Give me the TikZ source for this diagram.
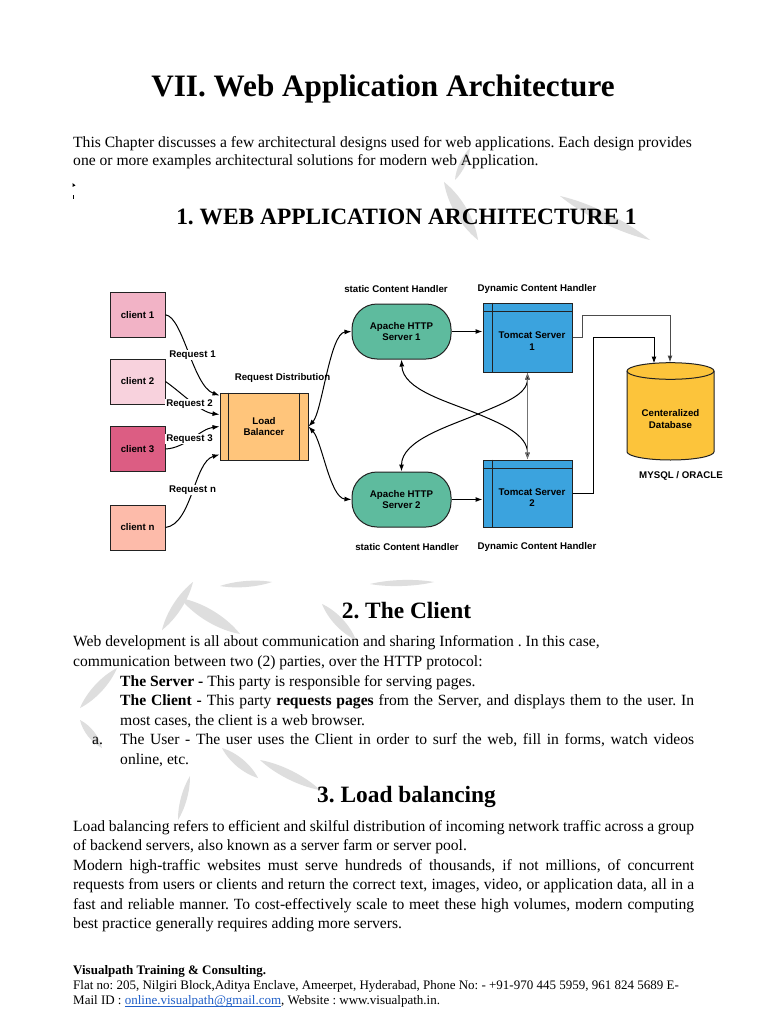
\documentclass[tikz,border=0pt]{standalone}
\usepackage{fontspec}
\setmainfont{Liberation Serif}
\newfontfamily\diagfont{Liberation Sans}
\usetikzlibrary{arrows.meta,calc}
\frenchspacing
\definecolor{cone}{HTML}{F2B3C6}
\definecolor{ctwo}{HTML}{F8D2DD}
\definecolor{cthree}{HTML}{DC5D83}
\definecolor{cn}{HTML}{FDBBAA}
\definecolor{lbfill}{HTML}{FFC57B}
\definecolor{apfill}{HTML}{5EBB9E}
\definecolor{tcfill}{HTML}{3BA3DE}
\definecolor{dbfill}{HTML}{FCC43B}
\definecolor{edge}{HTML}{222222}
\definecolor{linkblue}{HTML}{1F5FC8}
\definecolor{wmark}{HTML}{DEDEDE}
\newcommand\wleaf[5]{\fill[wmark] (#1,#2) .. controls ($(#1,#2)!0.3!(#3,#4)!#5!90:(#3,#4)$) and ($(#1,#2)!0.7!(#3,#4)!#5!90:(#3,#4)$) .. (#3,#4) .. controls ($(#1,#2)!0.7!(#3,#4)!#5!-90:(#3,#4)$) and ($(#1,#2)!0.3!(#3,#4)!#5!-90:(#3,#4)$) .. cycle;}
\tikzset{
  body/.style={anchor=base west, inner sep=0pt, font=\fontsize{15.6}{19.5}\selectfont},
  heading/.style={anchor=base, inner sep=0pt, font=\bfseries\fontsize{23.4}{28}\selectfont},
  foot/.style={anchor=base west, inner sep=0pt, font=\fontsize{13}{15}\selectfont},
  dfont/.style={font=\diagfont\bfseries\fontsize{9.7}{11.7}\selectfont},
  dtext/.style={dfont, align=center, inner sep=0pt},
  lab/.style={dfont, inner sep=1pt, fill=white},
  clientbox/.style={draw=edge, line width=1pt, minimum width=55pt, minimum height=45pt, inner sep=0pt, dfont},
  lbbox/.style={draw=edge, line width=1pt, fill=lbfill, minimum width=88pt, minimum height=67pt, inner sep=0pt, dfont, align=center},
  apbox/.style={draw=edge, line width=1pt, fill=apfill, rounded corners=25pt, minimum width=99pt, minimum height=55pt, inner sep=0pt, dfont, align=center},
  tcbox/.style={draw=edge, line width=1pt, fill=tcfill, minimum width=89pt, inner sep=0pt},
  conn/.style={line width=1pt, black, -{Latex[length=7pt,width=5pt]}},
  dconn/.style={line width=1pt, black, {Latex[length=7pt,width=5pt]}-{Latex[length=7pt,width=5pt]}},
}
\begin{document}
\begin{tikzpicture}[x=1pt,y=-1pt]
\useasboundingbox (0,0) rectangle (768,1024);
\fill[white] (0,0) rectangle (768,1024);

% ---------- faint watermark ----------
\wleaf{470}{148}{455}{180}{4pt}
\wleaf{444}{182}{478}{240}{8pt}
\wleaf{560}{196}{650}{240}{7pt}
\wleaf{193}{582}{162}{630}{6pt}
\wleaf{180}{598}{240}{634}{8pt}
\wleaf{220}{586}{272}{582}{4pt}
\wleaf{370}{584}{434}{582}{4pt}
\wleaf{322}{604}{356}{640}{6pt}
\wleaf{117}{668}{80}{708}{6pt}
\wleaf{80}{720}{102}{748}{5pt}
\wleaf{222}{748}{258}{778}{6pt}
\wleaf{190}{776}{178}{820}{4pt}
\wleaf{260}{760}{320}{790}{6pt}

% ---------- text ----------
\node[anchor=base, inner sep=0pt, font=\bfseries\fontsize{31.2}{36}\selectfont] (title) at (383,97) {VII. Web Application Architecture};
\node[body] (p1) at (73,148) {This Chapter discusses a few architectural designs used for web applications. Each design provides};
\node[body] (p2) at (73,166) {one or more examples architectural solutions for modern web Application.};
\fill (72.5,183) -- (75.5,185.5) -- (72.5,187) -- cycle;
\fill (72.6,195) rectangle (73.6,199);
\node[heading] (h1) at (406.5,225) {1. WEB APPLICATION ARCHITECTURE 1};

\node[heading] (h2) at (406.5,618) {2. The Client};
\node[body] (s1) at (73,646) {Web development is all about communication and sharing Information . In this case,};
\node[body] (s2) at (73,666) {communication between two (2) parties, over the HTTP protocol:};
\node[body] (s3) at (120,686) {\textbf{The Server -} This party is responsible for serving pages.};
\node[body] (s4) at (120,705) {\makebox[574pt][s]{\textbf{The Client -} This party \textbf{requests pages} from the Server, and displays them to the user. In}};
\node[body] (s5) at (120,725) {most cases, the client is a web browser.};
\node[body] (s6a) at (92,744) {a.};
\node[body] (s6) at (120,744) {\makebox[574pt][s]{The User - The user uses the Client in order to surf the web, fill in forms, watch videos}};
\node[body] (s7) at (120,764) {online, etc.};

\node[heading] (h3) at (406.5,802) {3. Load balancing};
\node[body] (l1) at (73,831) {\makebox[621pt][s]{Load balancing refers to efficient and skilful distribution of incoming network traffic across a group}};
\node[body] (l2) at (73,850) {of backend servers, also known as a server farm or server pool.};
\node[body] (l3) at (73,870) {\makebox[621pt][s]{Modern high-traffic websites must serve hundreds of thousands, if not millions, of concurrent}};
\node[body] (l4) at (73,889) {\makebox[621pt][s]{requests from users or clients and return the correct text, images, video, or application data, all in a}};
\node[body] (l5) at (73,909) {\makebox[621pt][s]{fast and reliable manner. To cost-effectively scale to meet these high volumes, modern computing}};
\node[body] (l6) at (73,928) {best practice generally requires adding more servers.};

\node[foot, font=\bfseries\fontsize{13}{15}\selectfont] (f1) at (73,974) {Visualpath Training \& Consulting.};
\node[foot] (f2) at (73,989) {Flat no: 205, Nilgiri Block,Aditya Enclave, Ameerpet, Hyderabad, Phone No: - +91-970 445 5959, 961 824 5689 E-};
\node[foot] (f3) at (73,1004) {Mail ID : {\color{linkblue}online.visualpath@gmail.com}, Website : www.visualpath.in.};
\draw[linkblue, line width=0.6pt] (125,1006.5) -- (281,1006.5);

% ---------- diagram ----------
\node[clientbox, fill=cone] (c1) at (137.5,314.8) {client 1};
\node[clientbox, fill=ctwo] (c2) at (137.5,381.5) {client 2};
\node[clientbox, fill=cthree] (c3) at (137.5,449) {client 3};
\node[clientbox, fill=cn] (cn) at (137.5,527.5) {client n};

\node[lbbox] (lb) at (264,426.5) {Load\\Balancer};
\draw[edge, line width=1pt] ([xshift=9pt]lb.north west) -- ([xshift=9pt]lb.south west);
\draw[edge, line width=1pt] ([xshift=-9pt]lb.north east) -- ([xshift=-9pt]lb.south east);

\node[apbox] (ap1) at (401.5,331.5) {Apache HTTP\\Server 1};
\node[apbox] (ap2) at (401.5,499.5) {Apache HTTP\\Server 2};

\node[tcbox, minimum height=69pt] (tc1) at (527.5,337.5) {};
\draw[edge, line width=1pt] ([yshift=-9pt]tc1.north west) -- ([yshift=-9pt]tc1.north east);
\draw[edge, line width=1pt] ([xshift=10pt]tc1.north west) -- ([xshift=10pt]tc1.south west);
\node[dtext] (tc1t) at (532,341) {Tomcat Server\\1};
\node[tcbox, minimum height=67pt] (tc2) at (527.5,493.5) {};
\draw[edge, line width=1pt] ([yshift=-9pt]tc2.north west) -- ([yshift=-9pt]tc2.north east);
\draw[edge, line width=1pt] ([xshift=10pt]tc2.north west) -- ([xshift=10pt]tc2.south west);
\node[dtext] (tc2t) at (532,497.5) {Tomcat Server\\2};

% database cylinder
\filldraw[fill=dbfill, draw=edge, line width=1pt]
  (627,371) -- (627,451.7)
  .. controls (627,456.28) and (646.47,460) .. (670.5,460)
  .. controls (694.53,460) and (714,456.28) .. (714,451.7)
  -- (714,371)
  .. controls (714,366.42) and (694.53,362.7) .. (670.5,362.7)
  .. controls (646.47,362.7) and (627,366.42) .. (627,371) -- cycle;
\draw[edge, line width=1pt] (627,371) .. controls (627,375.58) and (646.47,379.3) .. (670.5,379.3)
  .. controls (694.53,379.3) and (714,375.58) .. (714,371);
\node[dtext] (db) at (670.5,419) {Centeralized\\Database};
\coordinate (dbinA) at (670,362.5);
\coordinate (dbinB) at (654,363.5);

% labels
\node[dtext] (lsa) at (396,289) {static Content Handler};
\node[dtext] (lda) at (537,289) {Dynamic Content Handler};
\node[dtext] (lsb) at (407,547) {static Content Handler};
\node[dtext] (ldb) at (537,547) {Dynamic Content Handler};
\node[dtext] (lmy) at (681,476) {MYSQL / ORACLE};
\node[dtext] (lrd) at (282.5,378) {Request Distribution};

% client connectors
\draw[conn] (c1.east) .. controls (183,317) and (193,386) .. ([yshift=-3pt]lb.north west);
\draw[conn] (c2.east) .. controls (182,393) and (200,412) .. ([yshift=-22pt]lb.north west);
\draw[conn] (c3.east) .. controls (186,448) and (200,429) .. (lb.west);
\draw[conn] (cn.east) .. controls (192,524) and (194,462) .. ([yshift=-62pt]lb.north west);
\node[lab] (r1) at (192.5,355) {Request 1};
\node[lab] (r2) at (189.5,404) {Request 2};
\node[lab] (r3) at (189.5,439) {Request 3};
\node[lab] (rn) at (192.5,490) {Request n};

% balancer to apache
\draw[dconn] (lb.east) .. controls (322,412) and (330,333) .. (ap1.west);
\draw[dconn] (lb.east) .. controls (322,441) and (330,498) .. (ap2.west);

% apache to tomcat
\draw[conn] (ap1.east) -- (ap1.east -| tc1.west);
\draw[conn] (ap2.east) -- (ap2.east -| tc2.west);

% crossing curves
\draw[dconn] (ap1.south) .. controls (403,390) and (448,401.5) .. (478,414)
  .. controls (503,424.4) and (527.5,435) .. (tc2.north);
\draw[dconn] (tc1.south) .. controls (527.5,395) and (503,403.3) .. (478,414)
  .. controls (450,426) and (401.5,440) .. (ap2.north);
\draw[line width=1pt, black!55, {Latex[length=7pt,width=5pt,fill=black]}-{Latex[length=7pt,width=5pt,fill=black]}] (tc1.south) -- (tc2.north);

% tomcat to database
\draw[line width=1pt, black!70, -{Latex[length=7pt,width=5pt,fill=black]}] (tc1.east) -- ++(10,0) -- ++(0,-22.5) -| (dbinA);
\draw[conn] (tc2.east) -- ++(21,0) -- ++(0,-156.5) -| (dbinB);

\end{tikzpicture}
\end{document}
